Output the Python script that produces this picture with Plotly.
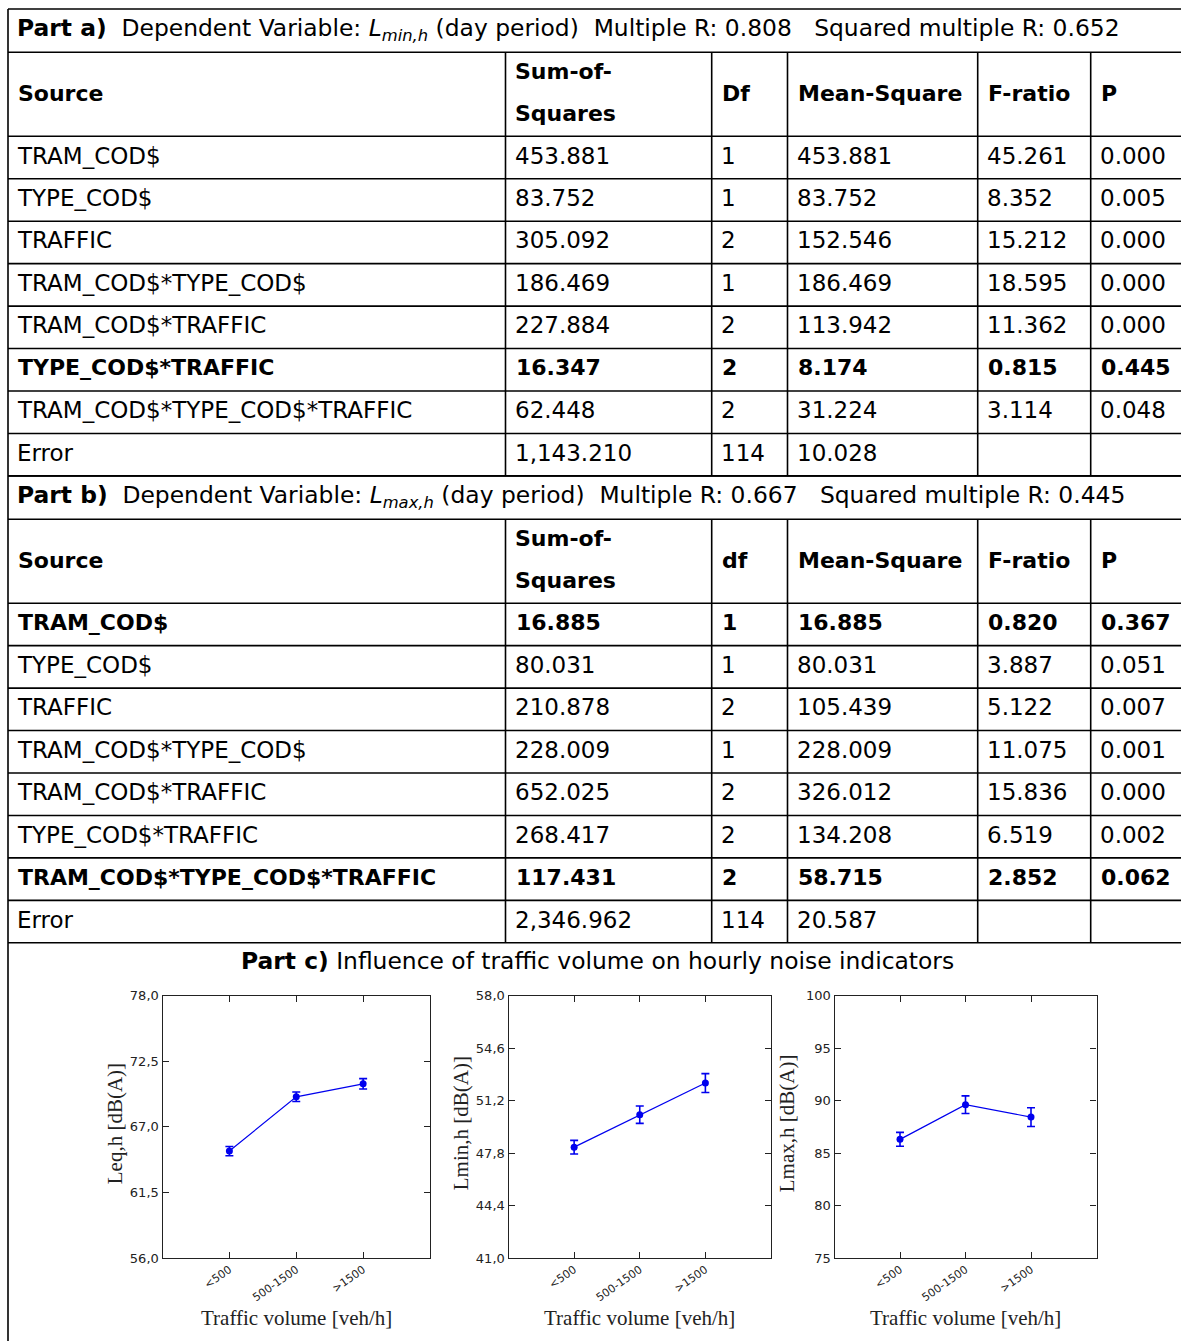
import plotly.graph_objects as go

W, H = 1181, 1341

# ---------------- data ----------------
cols_a = ["Source", "Sum-of-\nSquares", "Df", "Mean-Square", "F-ratio", "P"]
cols_b = ["Source", "Sum-of-\nSquares", "df", "Mean-Square", "F-ratio", "P"]

src_a = ["TRAM_COD$", "TYPE_COD$", "TRAFFIC", "TRAM_COD$*TYPE_COD$", "TRAM_COD$*TRAFFIC",
         "TYPE_COD$*TRAFFIC", "TRAM_COD$*TYPE_COD$*TRAFFIC", "Error"]
ss_a = ["453.881", "83.752", "305.092", "186.469", "227.884", "16.347", "62.448", "1,143.210"]
df_a = ["1", "1", "2", "1", "2", "2", "2", "114"]
ms_a = ["453.881", "83.752", "152.546", "186.469", "113.942", "8.174", "31.224", "10.028"]
f_a = ["45.261", "8.352", "15.212", "18.595", "11.362", "0.815", "3.114", ""]
p_a = ["0.000", "0.005", "0.000", "0.000", "0.000", "0.445", "0.048", ""]
bold_a = [False, False, False, False, False, True, False, False]

src_b = ["TRAM_COD$", "TYPE_COD$", "TRAFFIC", "TRAM_COD$*TYPE_COD$", "TRAM_COD$*TRAFFIC",
         "TYPE_COD$*TRAFFIC", "TRAM_COD$*TYPE_COD$*TRAFFIC", "Error"]
ss_b = ["16.885", "80.031", "210.878", "228.009", "652.025", "268.417", "117.431", "2,346.962"]
df_b = ["1", "1", "2", "1", "2", "2", "2", "114"]
ms_b = ["16.885", "80.031", "105.439", "228.009", "326.012", "134.208", "58.715", "20.587"]
f_b = ["0.820", "3.887", "5.122", "11.075", "15.836", "6.519", "2.852", ""]
p_b = ["0.367", "0.051", "0.007", "0.001", "0.000", "0.002", "0.062", ""]
bold_b = [True, False, False, False, False, False, True, False]

title_a = ("<b>Part a)</b>\u00a0 Dependent Variable: <i>L<sub>min,h</sub></i> (day period)\u00a0 "
           "Multiple R: 0.808\u00a0\u00a0 Squared multiple R: 0.652")
title_b = ("<b>Part b)</b>\u00a0 Dependent Variable: <i>L<sub>max,h</sub></i> (day period)\u00a0 "
           "Multiple R: 0.667\u00a0\u00a0 Squared multiple R: 0.445")
title_c = "<b>Part c)</b> Influence of traffic volume on hourly noise indicators"

categories = ["<500", "500-1500", ">1500"]
leq = [64.96, 69.51, 70.60]
leq_err = [0.39, 0.40, 0.43]
lmin = [48.18, 50.28, 52.33]
lmin_err = [0.44, 0.56, 0.61]
lmax = [86.30, 89.60, 88.42]
lmax_err = [0.66, 0.84, 0.89]

leq_ticks = [56.0, 61.5, 67.0, 72.5, 78.0]
leq_ticktext = ["56,0", "61,5", "67,0", "72,5", "78,0"]
lmin_ticks = [41.0, 44.4, 47.8, 51.2, 54.6, 58.0]
lmin_ticktext = ["41,0", "44,4", "47,8", "51,2", "54,6", "58,0"]
lmax_ticks = [75, 80, 85, 90, 95, 100]
lmax_ticktext = ["75", "80", "85", "90", "95", "100"]

ytitles = ["Leq,h [dB(A)]", "Lmin,h [dB(A)]", "Lmax,h [dB(A)]"]
xtitle = "Traffic volume [veh/h]"

# ---------------- layout helpers ----------------
def px(x):
    return x / W

def py(y):
    return 1 - y / H

FONT = "DejaVu Sans, Verdana, sans-serif"
FS = 23
FS_BOLD = 22
FS_TITLE = 23.4
BLUE = "#0000EE"
TICKFONT = "DejaVu Sans, Arial, sans-serif"
SERIF = "Liberation Serif, Times New Roman, serif"

shapes = []
annotations = []

def hline(y, x0=8, x1=W):
    shapes.append(dict(type="line", xref="paper", yref="paper", x0=px(x0), x1=px(x1),
                       y0=py(y), y1=py(y), line=dict(color="black", width=1.6)))

def vline(x, y0, y1):
    shapes.append(dict(type="line", xref="paper", yref="paper", x0=px(x), x1=px(x),
                       y0=py(y0), y1=py(y1), line=dict(color="black", width=1.6)))

def text(x, y, s, bold=False, size=None, xanchor="left"):
    if size is None:
        size = FS_BOLD if bold else FS
    if bold:
        s = "<b>" + s + "</b>"
    annotations.append(dict(x=px(x), y=py(y), xref="paper", yref="paper", text=s,
                            showarrow=False, xanchor=xanchor, yanchor="middle",
                            font=dict(family=FONT, size=size, color="black")))

col_x = [8, 505.5, 711.7, 787.5, 977.7, 1090.7]
pad = 7

def table(top, title, cols, src, ss, df, ms, f, p, bold):
    title_bot = top + 43.3
    head_bot = title_bot + 84
    row_h = 42.45
    text(15, (top + title_bot) / 2 - 1.5, title, size=FS_TITLE)
    hline(top)
    hline(title_bot)
    hline(head_bot)
    hc = (title_bot + head_bot) / 2
    for i, c in enumerate(cols):
        if "\n" in c:
            a, b = c.split("\n")
            text(col_x[i] + pad, hc - 23, a, bold=True)
            text(col_x[i] + pad, hc + 19, b, bold=True)
        else:
            text(col_x[i] + pad + 1, hc - 1, c, bold=True)
    n = len(src)
    for r in range(n):
        y0 = head_bot + r * row_h
        yc = y0 + row_h / 2 - 2
        vals = [src[r], ss[r], df[r], ms[r], f[r], p[r]]
        for i, v in enumerate(vals):
            if v:
                text(col_x[i] + pad + (1 if bold[r] else 0), yc, v, bold=bold[r])
        hline(y0 + row_h)
    bottom = head_bot + n * row_h
    for x in col_x[1:]:
        vline(x, title_bot, bottom)
    return bottom

b1 = table(9, title_a, cols_a, src_a, ss_a, df_a, ms_a, f_a, p_a, bold_a)
b2 = table(b1, title_b, cols_b, src_b, ss_b, df_b, ms_b, f_b, p_b, bold_b)
vline(8, 9, H)

text(597, 961, title_c, size=FS_TITLE, xanchor="center")

# ---------------- charts ----------------
fig = go.Figure()

charts = [
    dict(x0=162.5, x1=430, vals=leq, err=leq_err, tv=leq_ticks, tt=leq_ticktext, rng=[56, 78]),
    dict(x0=508.5, x1=771, vals=lmin, err=lmin_err, tv=lmin_ticks, tt=lmin_ticktext, rng=[41, 58]),
    dict(x0=834.5, x1=1096.5, vals=lmax, err=lmax_err, tv=lmax_ticks, tt=lmax_ticktext, rng=[75, 100]),
]
ytop, ybot = 995.5, 1258

layout_axes = {}
for k, c in enumerate(charts):
    n = "" if k == 0 else str(k + 1)
    fig.add_trace(go.Scatter(
        x=categories, y=c["vals"], mode="lines+markers",
        xaxis="x" + n, yaxis="y" + n, showlegend=False,
        line=dict(color=BLUE, width=1.2),
        marker=dict(color=BLUE, size=7),
        error_y=dict(type="data", array=c["err"], color=BLUE, thickness=1.6, width=4),
    ))
    axcommon = dict(showline=True, linecolor="#222", linewidth=1.2, mirror="ticks",
                    ticks="inside", ticklen=6, tickcolor="#222", tickwidth=1.2,
                    showgrid=False, zeroline=False, automargin=False)
    layout_axes["xaxis" + n] = dict(
        domain=[px(c["x0"]), px(c["x1"])], anchor="y" + n,
        type="category", range=[-1, 3], tickangle=-35,
        tickfont=dict(family=TICKFONT, size=11, color="#222"),
        **axcommon)
    layout_axes["yaxis" + n] = dict(
        domain=[py(ybot), py(ytop)], anchor="x" + n,
        range=c["rng"], tickvals=c["tv"], ticktext=c["tt"],
        tickfont=dict(family=TICKFONT, size=13, color="#222"),
        **axcommon)
    annotations.append(dict(x=px(c["x0"] - 48), y=py((ytop + ybot) / 2 - 3), xref="paper", yref="paper",
                            text=ytitles[k], textangle=-90, showarrow=False,
                            xanchor="center", yanchor="middle",
                            font=dict(family=SERIF, size=21, color="#222")))
    annotations.append(dict(x=px((c["x0"] + c["x1"]) / 2), y=py(1318), xref="paper", yref="paper",
                            text=xtitle, showarrow=False, xanchor="center", yanchor="middle",
                            font=dict(family=SERIF, size=21, color="#222")))

fig.update_layout(
    width=W, height=H, margin=dict(l=0, r=0, t=0, b=0, pad=0, autoexpand=False),
    paper_bgcolor="white", plot_bgcolor="white",
    shapes=shapes, annotations=annotations, **layout_axes,
)

fig.write_html("out.html", config={"displayModeBar": False},
               post_script="document.body.style.margin='0';")
